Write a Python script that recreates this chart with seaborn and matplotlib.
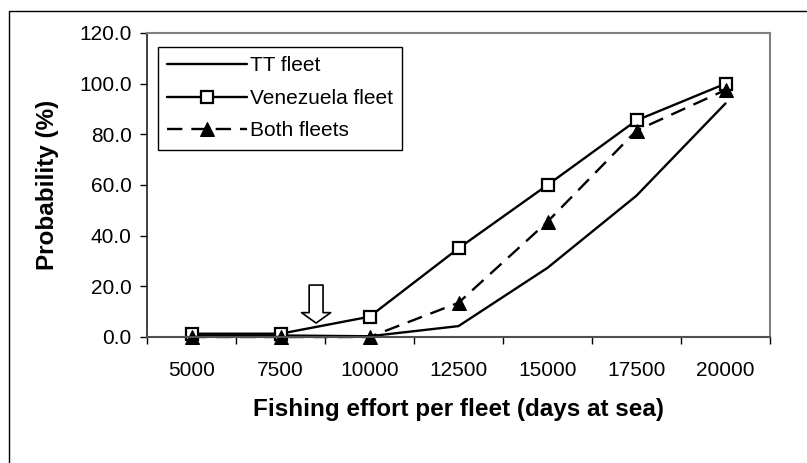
import numpy as np
import pandas as pd
import matplotlib
matplotlib.use("Agg")
import matplotlib.pyplot as plt
from matplotlib.patches import Rectangle
import seaborn as sns

# Fishing effort levels (days at sea per fleet)
efforts = [5000, 7500, 10000, 12500, 15000, 17500, 20000]
# Probability (%) for each fleet scenario
tt_fleet = [0.6, 0.6, 0.3, 4.3, 27.3, 55.8, 92.2]
venezuela_fleet = [1.3, 1.3, 8.0, 35.0, 60.0, 85.5, 100.0]
both_fleets = [0.0, 0.0, 0.0, 13.5, 45.5, 81.5, 97.5]
y_ticks = [0, 20, 40, 60, 80, 100, 120]
arrow_effort = 8500
arrow_top, arrow_tip = 20.5, 5.5

sns.set_theme(style="white")
plt.rcParams["font.family"] = ["Liberation Sans", "DejaVu Sans"]
plt.rcParams.update({"text.color": "black", "axes.labelcolor": "black",
                     "xtick.color": "black", "ytick.color": "black"})

fig = plt.figure(figsize=(8.07, 4.63), dpi=100)
ax = fig.add_axes([147 / 807, 1 - 337 / 463, 623 / 807, 304 / 463])

pos = np.arange(len(efforts))
df = pd.DataFrame({
    "pos": np.tile(pos, 3),
    "prob": tt_fleet + venezuela_fleet + both_fleets,
    "fleet": ["TT fleet"] * 7 + ["Venezuela fleet"] * 7 + ["Both fleets"] * 7,
})

common = dict(x="pos", y="prob", ax=ax, color="black", errorbar=None,
              linewidth=1.7, clip_on=False)
sns.lineplot(data=df[df.fleet == "TT fleet"], label="TT fleet", **common)
sns.lineplot(data=df[df.fleet == "Venezuela fleet"], label="Venezuela fleet",
             marker="s", markersize=9, markerfacecolor="white",
             markeredgecolor="black", markeredgewidth=1.6, **common)
sns.lineplot(data=df[df.fleet == "Both fleets"], label="Both fleets",
             marker="^", markersize=10, markerfacecolor="black",
             markeredgecolor="black", linestyle=(0, (6.5, 3.8)), **common)

# Axis ranges and ticks
ax.set_xlim(-0.5, len(efforts) - 0.5)
ax.set_ylim(y_ticks[0], y_ticks[-1])
ax.set_xticks(pos)
ax.set_xticklabels([str(e) for e in efforts])
ax.set_xticks(np.arange(-0.5, len(efforts)), minor=True)
ax.set_yticks(y_ticks)
ax.set_yticklabels([f"{v:.1f}" for v in y_ticks])
ax.tick_params(axis="x", which="major", length=0, pad=17, labelsize=15,
               colors="black")
ax.tick_params(axis="x", which="minor", bottom=True, length=5, width=1,
               color="black")
ax.tick_params(axis="y", left=True, length=5, width=1, pad=6, labelsize=15,
               colors="black")

for side in ("top", "right"):
    ax.spines[side].set_color("#808080")
    ax.spines[side].set_linewidth(1.5)
ax.spines["left"].set_color("#202020")
ax.spines["left"].set_linewidth(1.2)
ax.spines["bottom"].set_color("#505050")
ax.spines["bottom"].set_linewidth(1.5)

ax.set_xlabel("Fishing effort per fleet (days at sea)", fontsize=17.5,
              fontweight="bold", va="center")
ax.xaxis.set_label_coords(0.5, -0.237)
ax.set_ylabel("Probability (%)", fontsize=17.5, fontweight="bold",
              va="center")
ax.yaxis.set_label_coords(-0.16, 0.5)

# Hollow arrow marking the reference effort level
arrow_x = 1 + (arrow_effort - efforts[1]) / (efforts[2] - efforts[1])
ax.annotate("", xy=(arrow_x, arrow_tip), xytext=(arrow_x, arrow_top),
            arrowprops=dict(arrowstyle="simple,head_length=7.5,head_width=21,tail_width=10",
                            mutation_scale=1, fc="white", ec="black", lw=1.2,
                            shrinkA=0, shrinkB=0))

leg = ax.legend(loc="upper left", bbox_to_anchor=(11 / 623, 1 - 14 / 304),
                borderaxespad=0, fontsize=15, frameon=True, fancybox=False,
                edgecolor="black", framealpha=1, handlelength=3.8,
                handletextpad=0.15, labelspacing=0.65, borderpad=0.45)
leg.get_frame().set_linewidth(1.0)

# Outer chart frame
fig.patches.append(Rectangle((9 / 807, -0.1), 1.2, (463 - 11) / 463 + 0.1,
                             transform=fig.transFigure, fill=False,
                             ec="black", lw=1.0))

fig.savefig("out.png", dpi=100)
